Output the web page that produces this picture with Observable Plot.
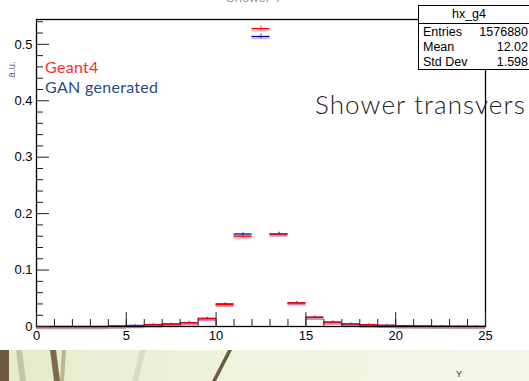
<!DOCTYPE html>
<html>
<head>
<meta charset="utf-8">
<script src="https://cdn.jsdelivr.net/npm/d3@7"></script>
<script src="https://cdn.jsdelivr.net/npm/@observablehq/plot@0.6"></script>
<style>
  html, body { margin: 0; padding: 0; background: #fff; }
  #wrap { position: relative; width: 529px; height: 381px; overflow: hidden; background: #fff; font-family: "Liberation Sans", Arial, sans-serif; }
  #wrap svg.plot { position: absolute; left: 0; top: 0; }
  .abs { position: absolute; white-space: nowrap; }
  #stats { left: 418px; top: 5px; width: 130px; height: 63px; border: 1px solid #000; background: #fff; font-size: 12.5px; color: #000; }
  #stats .hd { position: absolute; left: 0; width: 100px; top: 1px; text-align: center; }
  #stats .sep { position: absolute; left: 0; right: 0; top: 17px; border-top: 1px solid #000; }
  #stats .row { position: absolute; left: 4px; width: 105px; }
  #stats .row span { position: absolute; right: 0; }
  #strip { left: 0; top: 350px; width: 529px; height: 31px; background: linear-gradient(90deg, #e4ebcb 0%, #eef3dc 40%, #f3f6e8 100%); overflow: hidden; }
</style>
</head>
<body>
<div id="wrap">
  <div class="abs" style="left:226px; top:-10px; font-size:13px; color:#999;">Shower Y</div>
</div>
<script>
// bins (lower edges), width 1, from 0 to 25
const binLow = d3.range(0, 25);
const geant4 = [0, 0, 0, 0, 0.0005, 0.0015, 0.003, 0.004, 0.0066, 0.0137, 0.039, 0.160, 0.528, 0.164, 0.042, 0.0165, 0.0077, 0.0047, 0.003, 0.002, 0.001, 0.0008, 0.0005, 0.0003, 0.0002];
const gan    = [0, 0, 0, 0, 0.0008, 0.002, 0.0035, 0.0045, 0.007, 0.0145, 0.040, 0.164, 0.514, 0.164, 0.042, 0.0165, 0.0078, 0.0045, 0.003, 0.0022, 0.0012, 0.0008, 0.0005, 0.0003, 0.0002];
const errG4  = [0, 0, 0, 0, 0.001, 0.001, 0.0015, 0.0015, 0.002, 0.002, 0.002, 0.003, 0.0045, 0.003, 0.002, 0.002, 0.002, 0.0015, 0.0015, 0.001, 0.001, 0.001, 0.001, 0.001, 0.001];
const errGAN = [0, 0, 0, 0, 0.001, 0.001, 0.0015, 0.0015, 0.002, 0.002, 0.002, 0.003, 0.0045, 0.003, 0.002, 0.002, 0.002, 0.0015, 0.0015, 0.001, 0.001, 0.001, 0.001, 0.001, 0.001];
const xMajor = [0, 5, 10, 15, 20, 25];
const xMinor = d3.range(0, 26);
const yMajor = [0, 0.1, 0.2, 0.3, 0.4, 0.5];
const yMinor = [0.02,0.04,0.06,0.08,0.12,0.14,0.16,0.18,0.22,0.24,0.26,0.28,0.32,0.34,0.36,0.38,0.42,0.44,0.46,0.48,0.52,0.54];
const stats = [["Entries", "1576880"], ["Mean", "12.02"], ["Std Dev", "1.598"]];
const legend = [["Geant4", "#ff2a2a"], ["GAN generated", "#2b4a8c"]];

const rows = (vals, errs) => binLow.map((x, i) => ({x1: x, x2: x + 1, xc: x + 0.5, v: vals[i], e: errs[i]}));
const g4 = rows(geant4, errG4);
const gn = rows(gan, errGAN);

const RED = "#ff0000", BLUE = "#0000a0";

const plot = Plot.plot({
  width: 529,
  height: 345,
  marginLeft: 36,
  marginRight: 44,
  marginTop: 19,
  marginBottom: 19,
  x: {domain: [0, 25]},
  y: {domain: [0, 0.544]},
  style: {fontFamily: "Liberation Sans, Arial, sans-serif", fontSize: "13px", color: "#000", background: "transparent"},
  marks: [
    // pale bands under the bin segments
    Plot.ruleY(gn, {x1: "x1", x2: "x2", y: "v", stroke: BLUE, strokeOpacity: 0.25, strokeWidth: 2.5, dy: 1.5}),
    Plot.ruleY(g4, {x1: "x1", x2: "x2", y: "v", stroke: RED, strokeOpacity: 0.25, strokeWidth: 2.5, dy: 1.5}),
    Plot.ruleY(gn, {x1: "x1", x2: "x2", y: "v", stroke: BLUE, strokeWidth: 1.2}),
    Plot.ruleX(gn, {x: "xc", y1: d => d.v - d.e, y2: d => d.v + d.e, stroke: BLUE, strokeWidth: 1, strokeOpacity: 0.7}),
    Plot.ruleY(g4, {x1: "x1", x2: "x2", y: "v", stroke: RED, strokeWidth: 1.2}),
    Plot.ruleX(g4, {x: "xc", y1: d => d.v - d.e, y2: d => d.v + d.e, stroke: RED, strokeWidth: 1, strokeOpacity: 0.7}),
    Plot.frame({stroke: "#000", strokeWidth: 1.3}),
    // axes: ROOT-style inward ticks
    Plot.axisX(xMinor, {tickSize: -7, fill: "none", label: null, stroke: "#222"}),
    Plot.axisX(xMajor, {tickSize: -14, fill: "none", label: null, stroke: "#222"}),
    Plot.axisX(xMajor, {tickSize: 0, tickPadding: 4, label: null, fontSize: 13}),
    Plot.axisY(yMinor, {tickSize: -7, fill: "none", label: null, stroke: "#222"}),
    Plot.axisY(yMajor, {tickSize: -13, fill: "none", label: null, stroke: "#222"}),
    Plot.axisY(yMajor, {tickSize: 0, tickPadding: 4, label: null, fontSize: 13, tickFormat: d => d === 0 ? "0" : d3.format(".1f")(d)})
  ]
});
plot.classList.add("plot");
const wrap = document.getElementById("wrap");
wrap.appendChild(plot);

// y axis title
const au = document.createElement("div");
au.className = "abs";
au.style.cssText = "left:3px; top:64px; font-size:10px; color:#666; transform: rotate(-90deg); transform-origin: center;";
au.textContent = "a.u.";
wrap.appendChild(au);

// legend
legend.forEach(([t, c], i) => {
  const d = document.createElement("div");
  d.className = "abs";
  d.style.cssText = `left:45px; top:${57 + i * 20}px; font-size:16px; letter-spacing:0.3px; font-family: Lato, 'Open Sans', sans-serif; color:${c};`;
  d.textContent = t;
  wrap.appendChild(d);
});

// overlay slide text
const st = document.createElement("div");
st.className = "abs";
st.style.cssText = "left:315px; top:88px; font-size:26px; letter-spacing:1.1px; font-family: Lato, 'Open Sans', sans-serif; font-weight:300; color:#222;";
st.textContent = "Shower transvers";
wrap.appendChild(st);

// stats box
const sb = document.createElement("div");
sb.id = "stats"; sb.className = "abs";
sb.innerHTML = `<div class="hd">hx_g4</div><div class="sep"></div>` +
  stats.map(([k, v], i) => `<div class="row" style="top:${19 + i * 15}px">${k}<span>${v}</span></div>`).join("");
wrap.appendChild(sb);

// slide background strip at bottom
const strip = document.createElement("div");
strip.id = "strip"; strip.className = "abs";
strip.innerHTML = `<svg width="529" height="31">
  <rect x="0" y="0" width="9" height="31" fill="#6b5a3e"/>
  <polygon points="16,0 22,0 26,31 20,31" fill="#b9b59a" opacity="0.7"/>
  <polygon points="50,0 56,0 60,31 54,31" fill="#7d6a4a"/>
  <polygon points="62,0 66,0 64,31 60,31" fill="#a89c7a" opacity="0.7"/>
  <polygon points="140,0 146,0 138,31 132,31" fill="#d6d8bf" opacity="0.8"/>
  <polygon points="228,0 232,0 216,31 212,31" fill="#6e5c40"/>
</svg>`;
wrap.appendChild(strip);

const yl = document.createElement("div");
yl.className = "abs";
yl.style.cssText = "left:456px; top:369px; font-size:9px; color:#333;";
yl.textContent = "Y";
wrap.appendChild(yl);
</script>
</body>
</html>
